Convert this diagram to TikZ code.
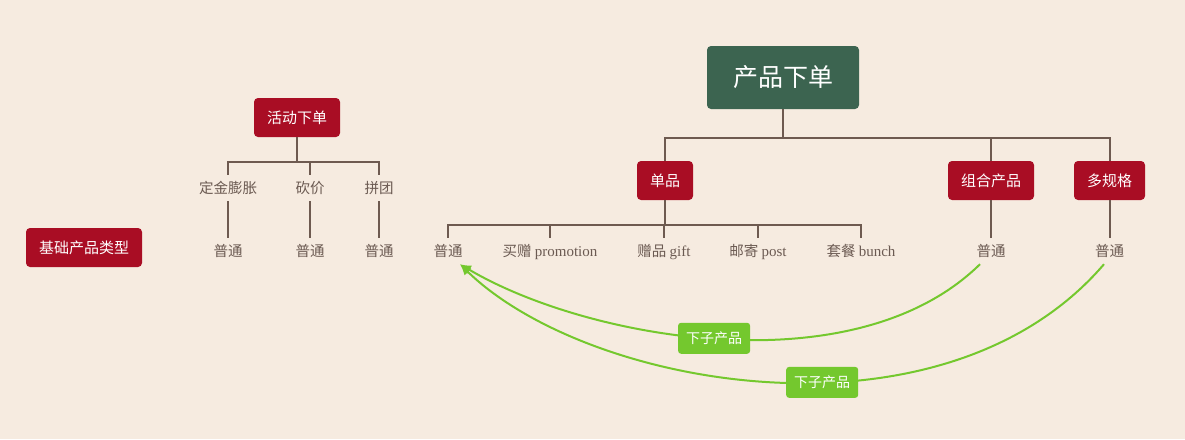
\documentclass[tikz,border=0pt]{standalone}
\usepackage{fontspec}
\setmainfont{Liberation Serif}
\newfontfamily\cjk{Noto Sans CJK SC}
\usetikzlibrary{arrows.meta}
\definecolor{bgc}{HTML}{F6EBE0}
\definecolor{rootc}{HTML}{3C6450}
\definecolor{redc}{HTML}{A90D24}
\definecolor{linec}{HTML}{6E5A50}
\definecolor{txtc}{HTML}{6B5A52}
\definecolor{grn}{HTML}{74C82E}
\tikzset{
  rootbox/.style={fill=rootc, rounded corners=4pt, text=white, minimum width=152pt, minimum height=63pt, inner sep=0pt, font=\fontsize{25}{28}\selectfont\cjk},
  redbox/.style={fill=redc, rounded corners=4pt, text=white, minimum height=39pt, inner sep=0pt, font=\fontsize{15}{18}\selectfont\cjk},
  lbl/.style={text=txtc, inner sep=0pt, minimum height=26pt, text height=11pt, text depth=0pt, font=\fontsize{14.5}{17}\selectfont\cjk},
  conn/.style={draw=linec, line width=2pt},
  curve/.style={draw=grn, line width=2pt, -{Latex[length=11pt,width=10pt]}},
  grnlab/.style={fill=grn, rounded corners=3pt, text=white, minimum width=72pt, minimum height=31pt, inner sep=0pt, font=\fontsize{14}{17}\selectfont\cjk}
}
\begin{document}
\begin{tikzpicture}[x=1pt,y=-1pt]
\fill[bgc] (0,0) rectangle (1185,439);
\useasboundingbox (0,0) rectangle (1185,439);

% main nodes
\node[rootbox] (root) at (783,77.5) {产品下单};
\node[redbox, minimum width=56pt] (dp) at (665,180.5) {单品};
\node[redbox, minimum width=86pt] (zh) at (991,180.5) {组合产品};
\node[redbox, minimum width=71pt] (dg) at (1109.5,180.5) {多规格};
\node[redbox, minimum width=86pt] (hd) at (297,117.5) {活动下单};
\node[redbox, minimum width=116pt] (jc) at (84,247.5) {基础产品类型};

% activity row
\node[lbl] (a1) at (228,188) {定金膨胀};
\node[lbl] (a2) at (310,188) {砍价};
\node[lbl] (a3) at (379,188) {拼团};
\node[lbl] (c1) at (228,251) {普通};
\node[lbl] (c2) at (310,251) {普通};
\node[lbl] (c3) at (379,251) {普通};

% single product row
\node[lbl] (b1) at (448,251) {普通};
\node[lbl] (b2) at (550,251) {买赠 \rmfamily\fontsize{15}{17}\selectfont promotion};
\node[lbl] (b3) at (664,251) {赠品 \rmfamily\fontsize{15}{17}\selectfont gift};
\node[lbl] (b4) at (758,251) {邮寄 \rmfamily\fontsize{15}{17}\selectfont post};
\node[lbl] (b5) at (861,251) {套餐 \rmfamily\fontsize{15}{17}\selectfont bunch};
\node[lbl] (z1) at (991,251) {普通};
\node[lbl] (g1) at (1109.5,251) {普通};

% bars
\coordinate (barR) at (0,138);
\coordinate (barD) at (0,225);
\coordinate (barH) at (0,162);

% root tree
\draw[conn] (root.south) -- (root.south |- barR) -| (dp.north);
\draw[conn] (root.south |- barR) -| (zh.north);
\draw[conn] (root.south |- barR) -| (dg.north);

% single product tree
\draw[conn] (dp.south) -- (dp.south |- barD) -| (b1.north);
\draw[conn] (dp.south |- barD) -| (b2.north);
\draw[conn] (dp.south |- barD) -| (b3.north);
\draw[conn] (dp.south |- barD) -| (b4.north);
\draw[conn] (dp.south |- barD) -| (b5.north);
\draw[conn] (zh.south) -- (z1.north);
\draw[conn] (dg.south) -- (g1.north);

% activity tree
\draw[conn, line width=2.5pt] (hd.south) -- (hd.south |- barH);
\draw[conn] (hd.south |- barH) -| (a1.north);
\draw[conn] (hd.south |- barH) -| (a2.north);
\draw[conn] (hd.south |- barH) -| (a3.north);
\draw[conn] (a1.south) -- (c1.north);
\draw[conn] (a2.south) -- (c2.north);
\draw[conn] (a3.south) -- (c3.north);

% green curves
\draw[curve] ([xshift=-11pt]z1.south) .. controls (854,388) and (586,339) .. ([xshift=12pt]b1.south)
  node[pos=0.51, grnlab] (k1) {下子产品};
\draw[curve] ([xshift=-5.5pt]g1.south) .. controls (943,452) and (588,389) .. ([xshift=12pt]b1.south)
  node[pos=0.43, grnlab] (k2) {下子产品};
\end{tikzpicture}
\end{document}
